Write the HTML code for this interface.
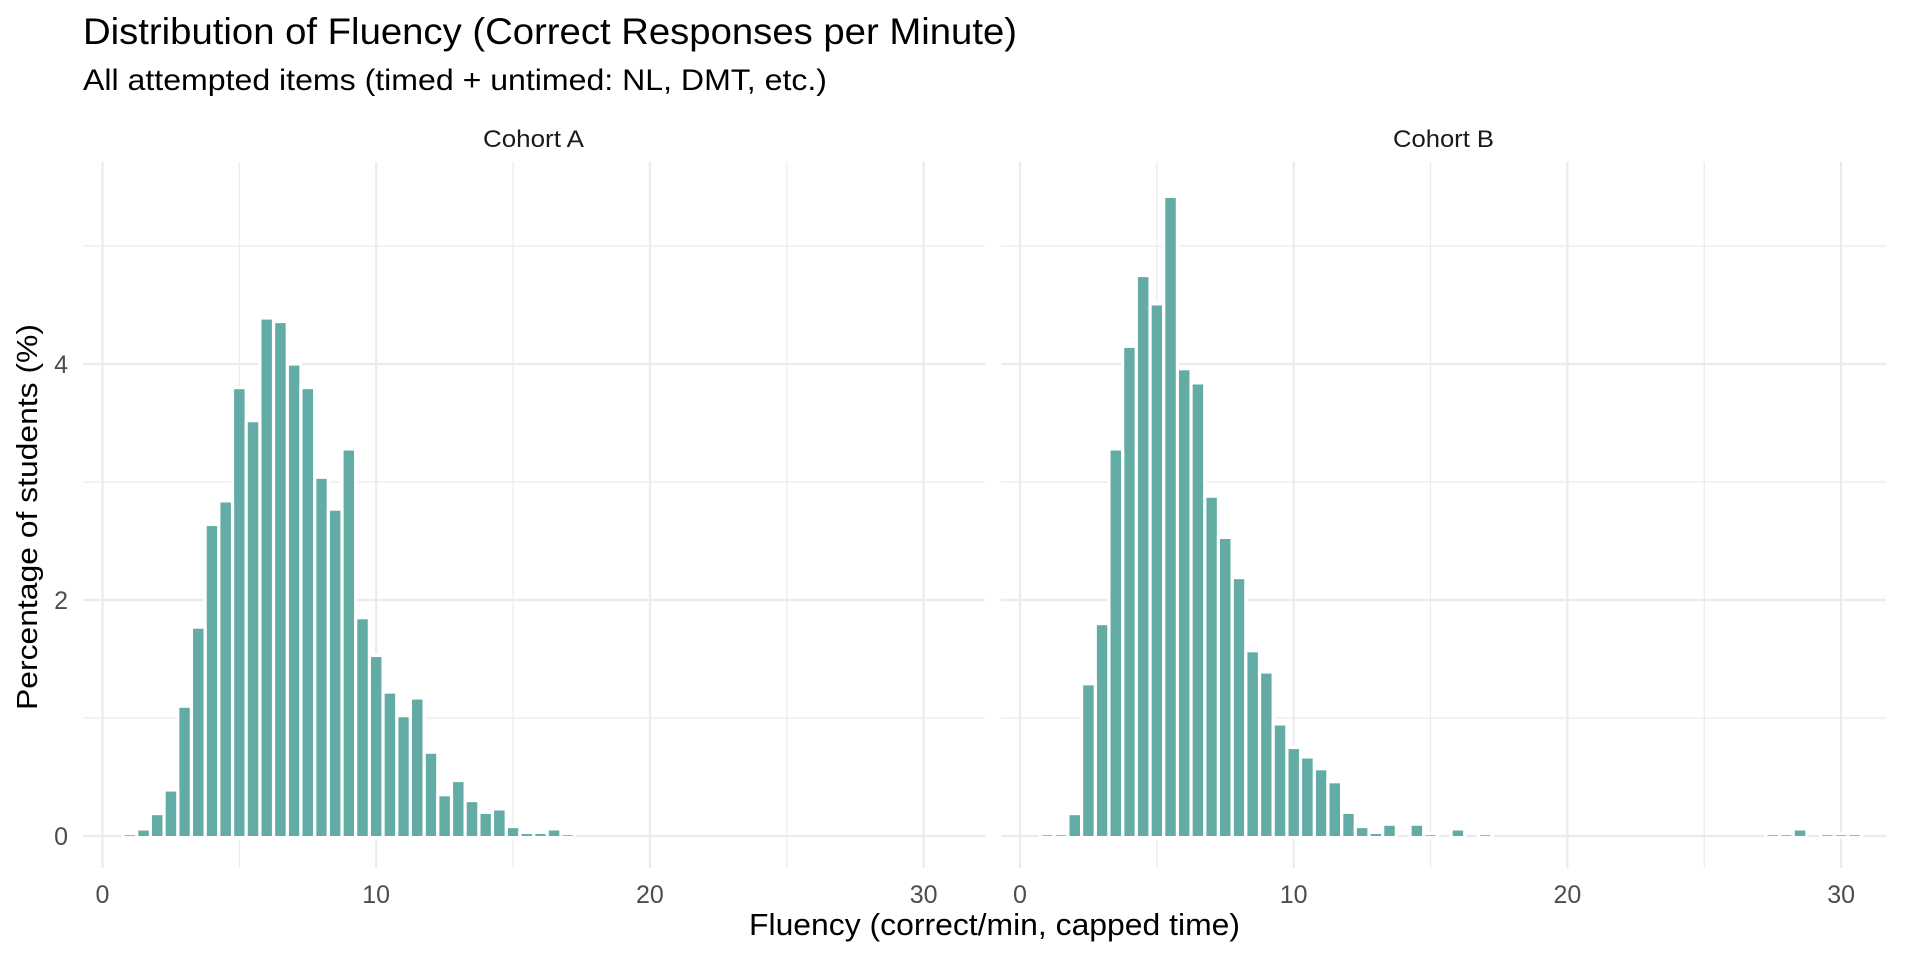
<!DOCTYPE html>
<html><head><meta charset="utf-8"><style>
html,body{margin:0;padding:0;background:#fff;}
svg{display:block;font-family:"Liberation Sans",Arial,sans-serif;}
</style></head><body>
<svg id="s" width="1920" height="960" xmlns="http://www.w3.org/2000/svg">
<text x="83" y="44" font-size="37" fill="#000" textLength="934" lengthAdjust="spacingAndGlyphs">Distribution of Fluency (Correct Responses per Minute)</text>
<text x="83" y="90" font-size="30" fill="#000" textLength="744" lengthAdjust="spacingAndGlyphs">All attempted items (timed + untimed: NL, DMT, etc.)</text>
<text x="483" y="147" font-size="24" fill="#1a1a1a" textLength="101" lengthAdjust="spacingAndGlyphs">Cohort A</text>
<text x="1393" y="147" font-size="24" fill="#1a1a1a" textLength="101" lengthAdjust="spacingAndGlyphs">Cohort B</text>
<text x="749" y="935" font-size="31" fill="#000" textLength="491" lengthAdjust="spacingAndGlyphs">Fluency (correct/min, capped time)</text>
<text transform="translate(37,710) rotate(-90)" font-size="29" fill="#000" textLength="386" lengthAdjust="spacingAndGlyphs">Percentage of students (%)</text>
<g id="g"></g>
</svg>
<script>
var g=document.getElementById('g'),NS="http://www.w3.org/2000/svg";
function el(t,a,txt){var e=document.createElementNS(NS,t);for(var k in a)e.setAttribute(k,a[k]);if(txt!=null)e.textContent=txt;g.appendChild(e);return e;}
var U=27.37,Y0=836,YU=118,TOP=162,BOT=868;
var panels=[{l:83,r:985,x0:102.5,lab:true},{l:1001,r:1886,x0:1020,lab:false}];
var A={1:.02,1.5:.06,2:.19,2.5:.39,3:1.1,3.5:1.77,4:2.64,4.5:2.84,5:3.8,5.5:3.52,6:4.39,6.5:4.36,7:4.0,7.5:3.8,8:3.04,8.5:2.77,9:3.28,9.5:1.85,10:1.53,10.5:1.22,11:1.02,11.5:1.17,12:.71,12.5:.35,13:.47,13.5:.3,14:.2,14.5:.23,15:.08,15.5:.03,16:.03,16.5:.06,17:.02};
var B={1:.02,1.5:.02,2:.19,2.5:1.29,3:1.8,3.5:3.28,4:4.15,4.5:4.75,5:4.51,5.5:5.42,6:3.96,6.5:3.84,7:2.88,7.5:2.53,8:2.19,8.5:1.57,9:1.39,9.5:.95,10:.75,10.5:.67,11:.57,11.5:.46,12:.2,12.5:.08,13:.03,13.5:.1,14.5:.1,15:.02,16:.06,17:.02,27.5:.02,28:.02,28.5:.06,29.5:.02,30:.02,30.5:.02};
var data=[A,B];
panels.forEach(function(p,i){
  for(var v=1;v<=5;v++){var y=Y0-v*YU;el('line',{x1:p.l,x2:p.r,y1:y,y2:y,stroke:'#ebebeb','stroke-width':v%2?1.2:2.2});}
  el('line',{x1:p.l,x2:p.r,y1:Y0,y2:Y0,stroke:'#ebebeb','stroke-width':2.2});
  for(var xv=0;xv<=30;xv+=5){var x=p.x0+xv*U;el('line',{x1:x,x2:x,y1:TOP,y2:BOT,stroke:'#ebebeb','stroke-width':xv%10?1.2:2.2});
    if(xv%10==0)el('text',{x:x,y:903,'font-size':25,fill:'#4d4d4d','text-anchor':'middle'},String(xv));}
  var d=data[i];
  for(var k in d){var c=parseFloat(k),h=d[k]*YU;var x=p.x0+(c-0.25)*U;
    el('rect',{x:x,y:Y0-h,width:U*0.5,height:h+1.6,fill:'#62aca5',stroke:'#fff','stroke-width':3.2});}
  if(p.lab){[0,2,4].forEach(function(v){el('text',{x:68,y:Y0-v*YU+9,'font-size':25,fill:'#4d4d4d','text-anchor':'end'},String(v));});}
});
</script>
</body></html>
